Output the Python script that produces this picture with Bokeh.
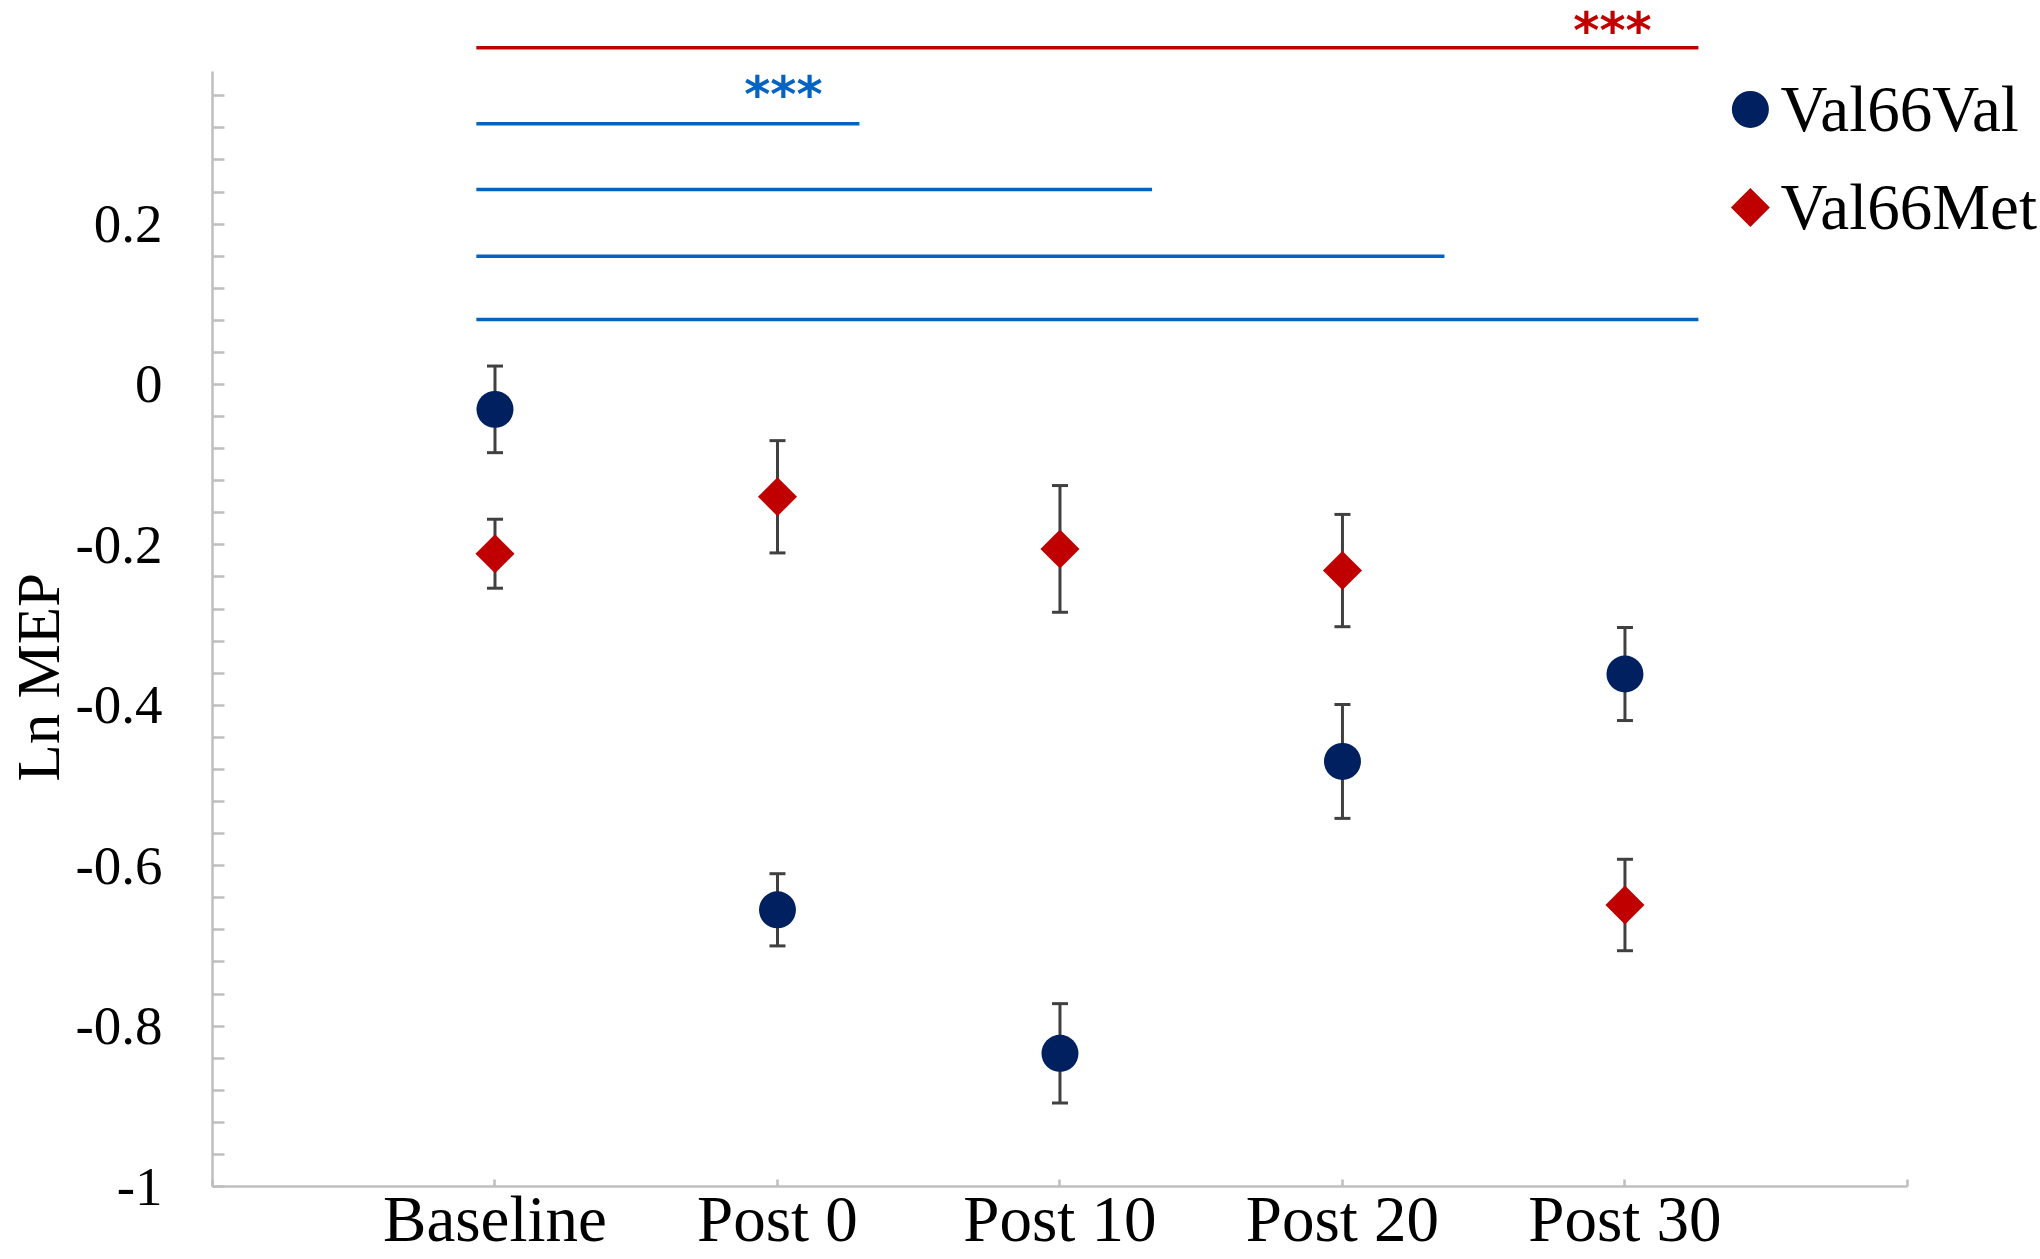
import numpy as np
from bokeh.plotting import figure
from bokeh.models import (Range1d, FixedTicker, CustomJSTickFormatter, Whisker, TeeHead,
                          ColumnDataSource, Label)
from bokeh.core.properties import value
from bokeh.embed import file_html
from bokeh.resources import INLINE

# ---------------- data ----------------
CATEGORIES = ["Baseline", "Post 0", "Post 10", "Post 20", "Post 30"]
VAL_MEAN = [-0.031, -0.655, -0.834, -0.470, -0.361]   # Val66Val
VAL_ERR = [0.054, 0.045, 0.062, 0.071, 0.058]
MET_MEAN = [-0.211, -0.140, -0.205, -0.232, -0.649]   # Val66Met
MET_ERR = [0.043, 0.070, 0.079, 0.070, 0.057]
SERIES = ["Val66Val", "Val66Met"]

Y_TICKS = [-1.0, -0.8, -0.6, -0.4, -0.2, 0.0, 0.2]
Y_MINOR = [-0.96, -0.92, -0.88, -0.84, -0.76, -0.72, -0.68, -0.64, -0.56, -0.52, -0.48, -0.44,
           -0.36, -0.32, -0.28, -0.24, -0.16, -0.12, -0.08, -0.04, 0.04, 0.08, 0.12, 0.16,
           0.24, 0.28, 0.32, 0.36]
X_TICKS = [0, 1, 2, 3, 4, 5, 6]

# significance bars (blue: Val66Val comparisons, red: Val66Met)
SIG_START = 0.934
SIG_BLUE_Y = [0.325, 0.243, 0.160, 0.081]
SIG_BLUE_END = [2.290, 3.326, 4.361, 5.260]
SIG_RED_Y = [0.420]
SIG_RED_END = [5.260]
SIG_MARK = "***"

# ---------------- layout / style ----------------
BLUE = "#0563C1"
RED = "#C00000"
NAVY = "#002060"
AXIS_GREY = "#BFBFBF"
BAR_GREY = "#404040"
SERIF = "Liberation Serif"

LEG_X_MARK = 5.444
LEG_X_TEXT = 5.551
LEG_Y = [0.343, 0.2207]

xs = [i + 1 for i in range(len(CATEGORIES))]

val_src = ColumnDataSource(dict(x=xs, y=VAL_MEAN,
                                upper=[m + e for m, e in zip(VAL_MEAN, VAL_ERR)],
                                lower=[m - e for m, e in zip(VAL_MEAN, VAL_ERR)]))
met_src = ColumnDataSource(dict(x=xs, y=MET_MEAN,
                                upper=[m + e for m, e in zip(MET_MEAN, MET_ERR)],
                                lower=[m - e for m, e in zip(MET_MEAN, MET_ERR)]))

p = figure(width=2040, height=1259,
           x_range=Range1d(0, 6.471), y_range=Range1d(-1, 0.4788),
           output_backend="svg", toolbar_location=None,
           min_border_left=212, min_border_right=0, min_border_top=0, min_border_bottom=73)
p.xgrid.visible = False
p.ygrid.visible = False
p.outline_line_color = None

# significance bars
p.segment(x0=[SIG_START] * len(SIG_BLUE_Y), y0=SIG_BLUE_Y, x1=SIG_BLUE_END, y1=SIG_BLUE_Y,
          line_color=BLUE, line_width=3.5)
p.segment(x0=[SIG_START] * len(SIG_RED_Y), y0=SIG_RED_Y, x1=SIG_RED_END, y1=SIG_RED_Y,
          line_color=RED, line_width=3.5)

# error bars
for src in (val_src, met_src):
    p.add_layout(Whisker(base="x", upper="upper", lower="lower", source=src,
                         line_color=BAR_GREY, line_width=3, level="underlay",
                         upper_head=TeeHead(size=16, line_color=BAR_GREY, line_width=3),
                         lower_head=TeeHead(size=16, line_color=BAR_GREY, line_width=3)))

p.scatter("x", "y", source=val_src, marker="circle", size=37,
          fill_color=NAVY, line_color=None)
p.scatter("x", "y", source=met_src, marker="square", size=27.6, angle=np.pi / 4,
          fill_color=RED, line_color=None)

# legend (right of the plot area)
p.scatter(x=[LEG_X_MARK], y=[LEG_Y[0]], marker="circle", size=37,
          fill_color=NAVY, line_color=None)
p.scatter(x=[LEG_X_MARK], y=[LEG_Y[1]], marker="square", size=27.6, angle=np.pi / 4,
          fill_color=RED, line_color=None)
p.text(x=[LEG_X_TEXT] * 2, y=LEG_Y, text=SERIES, text_font=value(SERIF),
       text_font_size=value("65px"), text_baseline="middle", text_align="left",
       text_color="black")

# axes
xa = p.xaxis[0]
xa.ticker = FixedTicker(ticks=X_TICKS)
xa.formatter = CustomJSTickFormatter(args=dict(cats=CATEGORIES), code="""
    const i = Math.round(tick);
    return (i >= 1 && i <= cats.length) ? cats[i - 1] : "";
""")
xa.bounds = (0, 6)
xa.axis_line_color = AXIS_GREY
xa.axis_line_width = 2.5
xa.major_tick_line_color = AXIS_GREY
xa.major_tick_line_width = 2.5
xa.major_tick_in = 7
xa.major_tick_out = 0
xa.minor_tick_line_color = None
xa.major_label_standoff = -4
xa.major_label_text_font = SERIF
xa.major_label_text_font_size = "65px"
xa.major_label_text_color = "black"

ya = p.yaxis[0]
ya.ticker = FixedTicker(ticks=Y_TICKS, minor_ticks=Y_MINOR)
ya.formatter = CustomJSTickFormatter(code="return (Math.round(tick * 10) / 10).toString();")
ya.bounds = (-1, 0.39)
ya.axis_line_color = AXIS_GREY
ya.axis_line_width = 2.5
ya.major_tick_line_color = AXIS_GREY
ya.major_tick_line_width = 2.5
ya.major_tick_in = 12
ya.major_tick_out = 0
ya.minor_tick_line_color = AXIS_GREY
ya.minor_tick_line_width = 2.5
ya.minor_tick_in = 12
ya.minor_tick_out = 0
ya.major_label_standoff = 50
ya.major_label_text_font = SERIF
ya.major_label_text_font_size = "55px"
ya.major_label_text_color = "black"
# trailing no-break spaces push the visible title a little below the frame centre
ya.axis_label = "Ln MEP" + "\u00a0" * 11
ya.axis_label_standoff = 0
ya.axis_label_text_font = SERIF
ya.axis_label_text_font_size = "61px"
ya.axis_label_text_font_style = "normal"
ya.axis_label_text_color = "black"

# significance stars
p.add_layout(Label(x=2.021, y=0.3612, text=SIG_MARK, text_align="center", text_baseline="middle",
                   text_font="DejaVu Sans", text_font_style="bold", text_font_size="50px",
                   text_color=BLUE))
p.add_layout(Label(x=4.956, y=0.4775, text=SIG_MARK, text_align="center", text_baseline="top",
                   text_font="DejaVu Sans", text_font_style="bold", text_font_size="50px",
                   text_color=RED))

open("out.html", "w").write(file_html(p, INLINE))
